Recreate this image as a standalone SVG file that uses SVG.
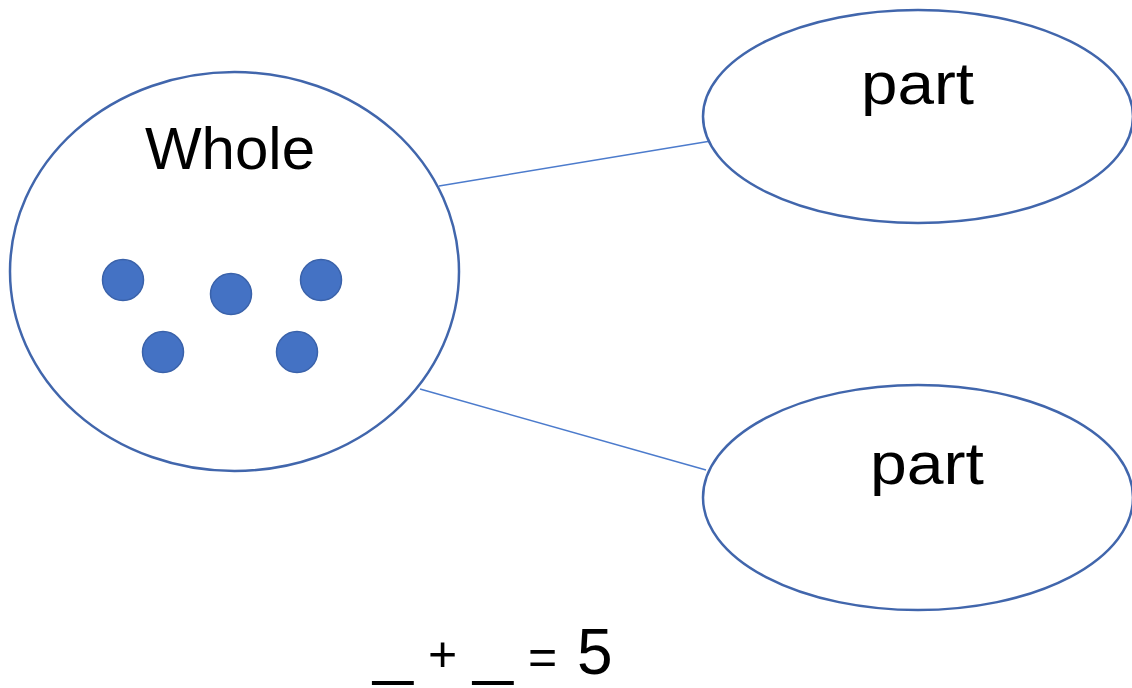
<svg xmlns="http://www.w3.org/2000/svg" width="1132" height="688" viewBox="0 0 1132 688">
<style>
.node{fill:#ffffff;stroke:#4166AC;stroke-width:2.5}
.dot{fill:#4472C4;stroke:#3A62AA;stroke-width:1.5}
.lbl{font-family:"Liberation Sans","DejaVu Sans",sans-serif;font-size:60px;fill:#000000}
.eq{font-family:"Liberation Sans",Arial,sans-serif;font-size:64px;fill:#000000}
.sm{font-size:50px}
.conn{stroke:#4C7BCC;stroke-width:1.5;fill:none}
</style>
<rect width="1132" height="688" fill="#ffffff"/>
<g id="connectors">
<line class="conn" x1="439" y1="186" x2="717" y2="140"/>
<line class="conn" x1="420" y1="389" x2="706" y2="470"/>
</g>
<g id="whole">
<ellipse class="node" cx="234.5" cy="271.5" rx="224.5" ry="199.5"/>
<text class="lbl" x="145" y="169" textLength="170" lengthAdjust="spacingAndGlyphs">Whole</text>
<circle class="dot" cx="123" cy="280" r="20.5"/>
<circle class="dot" cx="231" cy="294" r="20.5"/>
<circle class="dot" cx="321" cy="280" r="20.5"/>
<circle class="dot" cx="163" cy="352" r="20.5"/>
<circle class="dot" cx="297" cy="352" r="20.5"/>
</g>
<g id="part-top">
<ellipse class="node" cx="918" cy="116.5" rx="215" ry="106.5"/>
<text class="lbl" x="861" y="104" textLength="113" lengthAdjust="spacingAndGlyphs">part</text>
</g>
<g id="part-bottom">
<ellipse class="node" cx="918" cy="497.5" rx="215" ry="112.5"/>
<text class="lbl" x="870" y="484" textLength="114" lengthAdjust="spacingAndGlyphs">part</text>
</g>
<g id="equation">
<text class="eq" y="672"><tspan x="373" textLength="40" lengthAdjust="spacingAndGlyphs">_</tspan> <tspan class="sm" x="428" y="671">+</tspan> <tspan x="473" y="672" textLength="40" lengthAdjust="spacingAndGlyphs">_</tspan> <tspan class="sm" x="528" y="674">=</tspan> <tspan x="577" y="674">5</tspan></text>
</g>
</svg>
